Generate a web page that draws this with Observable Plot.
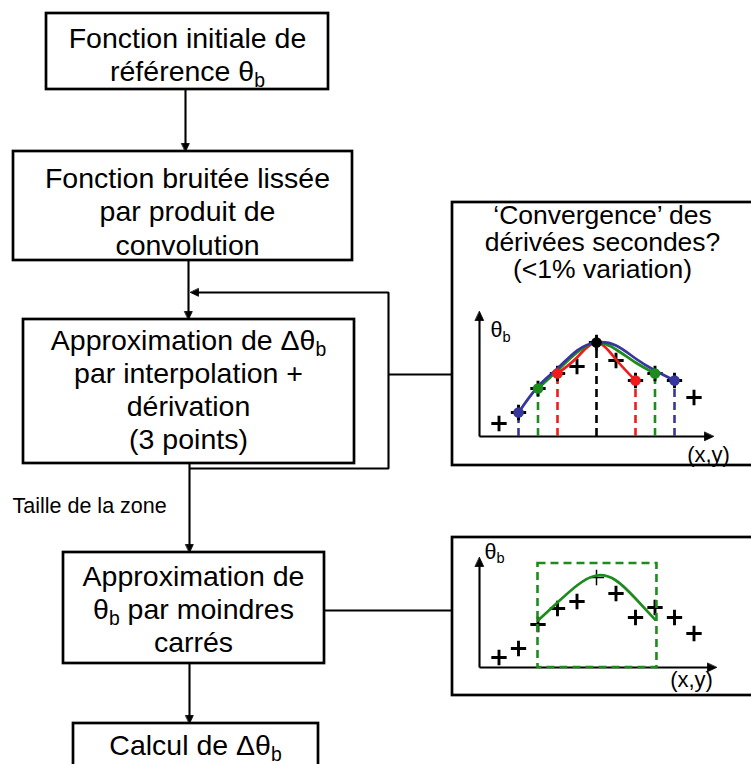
<!DOCTYPE html>
<html>
<head>
<meta charset="utf-8">
<script src="https://cdn.jsdelivr.net/npm/d3@7"></script>
<script src="https://cdn.jsdelivr.net/npm/@observablehq/plot@0.6"></script>
<style>
  html, body { margin: 0; padding: 0; background: #fff; overflow: hidden; }
  #chart { position: relative; width: 751px; height: 764px; overflow: hidden; }
  #chart > svg { position: absolute; display: block; }
</style>
</head>
<body>
<div id="chart"></div>
<script>
// ===================== DATA =====================
const stepLabels = [
  "Fonction initiale de\nréférence θb",
  "Fonction bruitée lissée\npar produit de\nconvolution",
  "Approximation de Δθb\npar interpolation +\ndérivation\n(3 points)",
  "Approximation de\nθb par moindres\ncarrés",
  "Calcul de Δθb"
];
const loopNote = "Taille de la zone";
const checkLabel = "‘Convergence’ des\ndérivées secondes?\n(<1% variation)";
const yAxisLabel = "θb";
const xAxisLabel = "(x,y)";

// Inset 1 : noisy samples of θb along (x,y) and the 3-point stencils
const sampleIndex = [1, 2, 3, 4, 5, 6, 7, 8, 9, 10, 11];
const samplesTop = [13, 24, 48, 63, 70, 94, 76, 56, 63, 56, 39];
const stencilNames = ["rouge", "vert", "bleu"];
const stencilLeft = [4, 3, 2];
const stencilRight = [8, 9, 10];
const peakIndex = 6;
const redArcIndex = [4, 5, 6, 7, 8];
const redArcValue = [63, 79, 94, 77, 56];
const greenArcIndex = [3, 4, 5, 6, 7, 8, 9];
const greenArcValue = [48, 66, 84, 94, 87, 74, 63];
const blueArcIndex = [2, 3, 4, 5, 6, 7, 8, 9, 10];
const blueArcValue = [24, 50, 68, 86, 94, 91, 78, 66, 56];

// Inset 2 : least-squares window
const samplesBottom = [10, 19, 43, 59, 66, 90, 74, 50, 60, 50, 34];
const fitIndex = [3, 4, 5, 6, 7, 8, 9];
const fitValue = [47, 65, 82, 92, 87, 69, 48];
const zoneStart = 3, zoneEnd = 9.1, zoneTop = 104;

// ===================== STYLE / LAYOUT =====================
const W = 751, H = 764;
const FONT = '"Liberation Sans", Arial, Helvetica, sans-serif';
const INK = "#000";
const COLOR = {rouge: "#ee1c1c", vert: "#1c8c1c", bleu: "#36369e", pic: "#000"};

const stepBoxes = [
  {x1: 46, x2: 328, y1: 13, y2: 89, cx: 187, base: 47},
  {x1: 13, x2: 352, y1: 151, y2: 260, cx: 187, base: 187.5},
  {x1: 23, x2: 354, y1: 319, y2: 463, cx: 188, base: 349},
  {x1: 63, x2: 324, y1: 552, y2: 663, cx: 193, base: 585},
  {x1: 73, x2: 318, y1: 723, y2: 800, cx: 195, base: 754}
];
const insetFrames = [
  {x1: 452, x2: 830, y1: 202, y2: 465},
  {x1: 452, x2: 830, y1: 537, y2: 695}
];
const stepFont = 28.5, stepLead = 33.3;

const wires = [
  [[185, 89], [185, 145]],
  [[188, 260], [188, 313]],
  [[189, 463], [189, 546]],
  [[189, 663], [189, 717]],
  [[189, 468], [388, 468], [388, 292], [197, 292]],
  [[388, 374], [452, 374]],
  [[324, 610], [452, 610]],
  // inset axes
  [[479, 436], [479, 318]], [[479, 436], [706, 436]],
  [[479, 667], [479, 564]], [[479, 667], [709, 667]]
];
const heads = [
  [185, 151, "down", 8, 3.8], [188, 319, "down", 8, 3.8], [189, 552, "down", 8, 3.8],
  [189, 723, "down", 8, 3.8], [190, 292, "left", 8, 3.8],
  [479, 311, "up", 9, 4.2], [713, 436, "right", 9, 4.2],
  [479, 557, "up", 9, 4.2], [716, 667, "right", 9, 4.2]
];

const wirePts = wires.flatMap((pts, id) => pts.map(([x, y]) => ({id, x, y})));
const headPts = heads.flatMap(([x, y, dir, L, h], id) => {
  let p;
  if (dir === "down") p = [[x - h, y - L], [x + h, y - L], [x, y]];
  else if (dir === "up") p = [[x - h, y + L], [x + h, y + L], [x, y]];
  else if (dir === "left") p = [[x + L, y - h], [x + L, y + h], [x, y]];
  else p = [[x - L, y - h], [x - L, y + h], [x, y]];
  return p.map(([px, py]) => ({id, x: px, y: py}));
});

const stepLines = [];
stepLabels.forEach((label, i) => {
  const b = stepBoxes[i];
  label.split("\n").forEach((t, j) => stepLines.push({text: t, x: b.cx, y: b.base + j * stepLead}));
});
const checkLines = checkLabel.split("\n").map((t, j) => ({text: t, x: 602, y: 223.5 + j * 27.2}));
const axisTexts = [
  {text: yAxisLabel, x: 490, y: 336.5, anchor: "start"},
  {text: xAxisLabel, x: 708, y: 461, anchor: "middle"},
  {text: yAxisLabel, x: 484, y: 558, anchor: "start"},
  {text: xAxisLabel, x: 691, y: 686, anchor: "middle"}
];

const main = Plot.plot({
  width: W, height: H, margin: 0,
  x: {axis: null, domain: [0, W], range: [0, W]},
  y: {axis: null, domain: [0, H], range: [0, H]},
  style: {background: "#fff", fontFamily: FONT},
  marks: [
    Plot.rect(stepBoxes.concat(insetFrames), {x1: "x1", x2: "x2", y1: "y1", y2: "y2", fill: "none", stroke: INK, strokeWidth: 2.7}),
    Plot.line(wirePts, {x: "x", y: "y", z: "id", stroke: INK, strokeWidth: 2.1, strokeLinejoin: "miter", strokeLinecap: "butt"}),
    Plot.line(headPts, {x: "x", y: "y", z: "id", fill: INK, stroke: INK, strokeWidth: 0.8, curve: "linear-closed"}),
    Plot.text(stepLines, {x: "x", y: "y", text: "text", fontSize: stepFont, lineAnchor: "bottom", textAnchor: "middle", fill: INK}),
    Plot.text(checkLines, {x: "x", y: "y", text: "text", fontSize: 26.5, lineAnchor: "bottom", textAnchor: "middle", fill: INK}),
    Plot.text([loopNote], {x: 12, y: 512, text: d => d, fontSize: 21.5, lineAnchor: "bottom", textAnchor: "start", fill: INK}),
    Plot.text(axisTexts.filter(d => d.anchor === "start"), {x: "x", y: "y", text: "text", fontSize: 21.5, lineAnchor: "bottom", textAnchor: "start", fill: INK}),
    Plot.text(axisTexts.filter(d => d.anchor === "middle"), {x: "x", y: "y", text: "text", fontSize: 22, lineAnchor: "bottom", textAnchor: "middle", fill: INK})
  ]
});

function insetPlot({left, top, width, height, ox, oy, unit, marks}) {
  const svg = Plot.plot({
    width, height, margin: 0,
    x: {axis: null, domain: [-ox / unit, (width - ox) / unit], range: [0, width]},
    y: {axis: null, domain: [oy - height, oy], range: [height, 0]},
    color: {type: "identity"},
    style: {background: "transparent", overflow: "visible"},
    marks
  });
  svg.style.left = left + "px";
  svg.style.top = top + "px";
  return svg;
}

// inset 1 tables
const samples1 = sampleIndex.map((i, k) => ({i, v: samplesTop[k]}));
const guides = [];
stencilNames.forEach((name, k) => {
  for (const i of [stencilLeft[k], stencilRight[k]]) guides.push({i, v: samplesTop[i - 1], color: COLOR[name]});
});
guides.push({i: peakIndex, v: samplesTop[peakIndex - 1], color: COLOR.pic});
const arc = (idx, val) => idx.map((i, k) => ({i, v: val[k]}));
const plusWidth = d => (d.i === peakIndex ? 1.5 : 2.9);

const inset1 = insetPlot({
  left: 452, top: 300, width: 299, height: 165, ox: 27, oy: 136, unit: 19.5,
  marks: [
    Plot.ruleX(guides, {x: "i", y1: 0, y2: "v", stroke: "color", strokeWidth: 2.6, strokeDasharray: "8,5"}),
    Plot.dot(samples1, {x: "i", y: "v", symbol: "plus", r: 5, stroke: INK, strokeWidth: 2.9}),
    Plot.line(arc(redArcIndex, redArcValue), {x: "i", y: "v", stroke: COLOR.rouge, strokeWidth: 2.7, curve: "natural"}),
    Plot.line(arc(greenArcIndex, greenArcValue), {x: "i", y: "v", stroke: COLOR.vert, strokeWidth: 2.7, curve: "natural"}),
    Plot.line(arc(blueArcIndex, blueArcValue), {x: "i", y: "v", stroke: COLOR.bleu, strokeWidth: 2.7, curve: "natural"}),
    Plot.dot(guides, {x: "i", y: "v", fill: "color", r: 5.3})
  ]
});

const samples2 = sampleIndex.map((i, k) => ({i, v: samplesBottom[k]}));
const inset2 = insetPlot({
  left: 452, top: 537, width: 299, height: 158, ox: 27, oy: 130, unit: 19.5,
  marks: [
    Plot.dot(samples2, {x: "i", y: "v", symbol: "plus", r: 5, stroke: INK, strokeWidth: plusWidth}),
    Plot.line(arc(fitIndex, fitValue), {x: "i", y: "v", stroke: COLOR.vert, strokeWidth: 2.7, curve: "natural"}),
    Plot.rect([0], {x1: zoneStart, x2: zoneEnd, y1: 0, y2: zoneTop, fill: "none", stroke: COLOR.vert, strokeWidth: 2.6, strokeDasharray: "8,5"})
  ]
});

const chart = document.getElementById("chart");
main.style.left = "0px"; main.style.top = "0px";
chart.appendChild(main);
chart.appendChild(inset1);
chart.appendChild(inset2);

// subscript "b" after θ
const NS = "http://www.w3.org/2000/svg";
chart.querySelectorAll("text").forEach(t => {
  const s = t.textContent;
  const k = s.indexOf("θb");
  if (k < 0) return;
  const fs = parseFloat(getComputedStyle(t).fontSize) || stepFont;
  const shift = 0.22 * fs;
  t.textContent = s.slice(0, k + 1);
  const sub = document.createElementNS(NS, "tspan");
  sub.setAttribute("dy", shift);
  sub.setAttribute("font-size", 0.68 * fs);
  sub.textContent = "b";
  t.appendChild(sub);
  const after = s.slice(k + 2);
  if (after) {
    const rest = document.createElementNS(NS, "tspan");
    rest.setAttribute("dy", -shift);
    rest.textContent = after;
    t.appendChild(rest);
  }
});
</script>
</body>
</html>
